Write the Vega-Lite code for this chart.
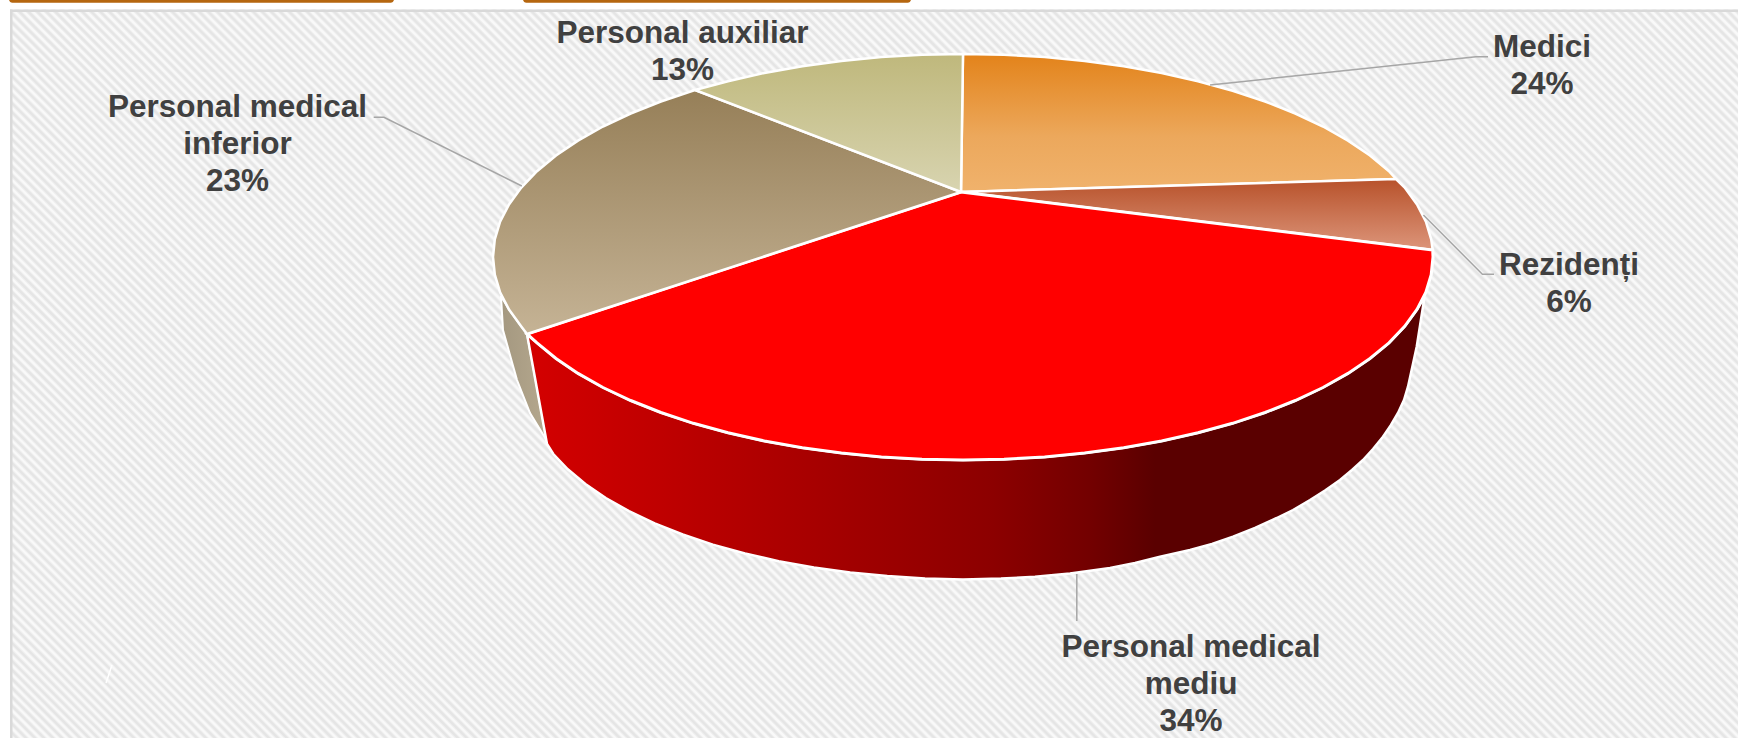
{
"$schema":"https://vega.github.io/schema/vega-lite/v6.json",
"width":1738,"height":738,"padding":0,"autosize":{"type":"none"},
"background":"#f9f9f9",
"config":{"view":{"stroke":null}},
"datasets":{
"hatch":[{"x":-431,"y":1669,"x2":2169,"y2":-931}],
"margins":[{"x":0,"x2":1738,"y":0,"y2":9.5},{"x":0,"x2":10,"y":0,"y2":738}],
"frame":[{"x":10,"x2":12.5,"y":9.5,"y2":738},{"x":10,"x2":1738,"y":9.5,"y2":12}],
"tabs":[{"x":9,"x2":394,"y":-4,"y2":2.7},{"x":523,"x2":911,"y":-4,"y2":2.7}],
"glint":[{"x":112,"y":665,"x2":106,"y2":683}],
"sideTan":[{"x":501,"y":296},{"x":509,"y":309.5},{"x":521.3,"y":326.4},{"x":527,"y":334},{"x":547,"y":441},{"x":530,"y":413},{"x":517,"y":380},{"x":503,"y":330},{"x":501,"y":296}],
"sideRed":[{"x":1424.5,"y":297},{"x":1417,"y":309.5},{"x":1404.7,"y":326.4},{"x":1389,"y":342.8},{"x":1370,"y":358.5},{"x":1348,"y":373.4},{"x":1323,"y":387.5},{"x":1295.3,"y":400.5},{"x":1265.1,"y":412.5},{"x":1232.6,"y":423.3},{"x":1198,"y":432.8},{"x":1161.6,"y":441},{"x":1123.7,"y":447.8},{"x":1084.6,"y":453.1},{"x":1044.6,"y":456.9},{"x":1004,"y":459.2},{"x":963,"y":460},{"x":922,"y":459.2},{"x":881.4,"y":456.9},{"x":841.4,"y":453.1},{"x":802.3,"y":447.8},{"x":764.4,"y":441},{"x":728,"y":432.8},{"x":693.4,"y":423.3},{"x":660.9,"y":412.5},{"x":630.7,"y":400.5},{"x":603,"y":387.5},{"x":578,"y":373.4},{"x":556,"y":358.5},{"x":537,"y":342.8},{"x":527,"y":334},{"x":547,"y":444},{"x":553.3,"y":454},{"x":567.8,"y":469.3},{"x":585.4,"y":484},{"x":605.8,"y":498},{"x":629,"y":511.1},{"x":654.7,"y":523.4},{"x":682.7,"y":534.5},{"x":712.9,"y":544.6},{"x":745,"y":553.5},{"x":778.7,"y":561.2},{"x":813.9,"y":567.5},{"x":850.2,"y":572.5},{"x":887.3,"y":576.1},{"x":925,"y":578.6},{"x":963,"y":579.5},{"x":1001,"y":578.6},{"x":1035,"y":576.8},{"x":1070,"y":573.5},{"x":1110,"y":568},{"x":1135,"y":563},{"x":1160,"y":556.7},{"x":1190,"y":550},{"x":1212,"y":544},{"x":1233,"y":536.7},{"x":1255,"y":528},{"x":1276.7,"y":518},{"x":1293,"y":510},{"x":1310,"y":500},{"x":1325,"y":490.5},{"x":1340,"y":480},{"x":1352,"y":470},{"x":1363,"y":460},{"x":1373,"y":449},{"x":1383,"y":436.7},{"x":1391,"y":425},{"x":1398,"y":413},{"x":1404,"y":400},{"x":1408,"y":386.7},{"x":1416.7,"y":346.7},{"x":1424.5,"y":297}],
"medici":[{"x":961,"y":192},{"x":963,"y":54},{"x":1004,"y":54.8},{"x":1044.6,"y":57.1},{"x":1084.6,"y":60.9},{"x":1123.7,"y":66.2},{"x":1161.6,"y":73},{"x":1198,"y":81.2},{"x":1232.6,"y":90.7},{"x":1265.1,"y":101.5},{"x":1295.3,"y":113.5},{"x":1323,"y":126.5},{"x":1348,"y":140.6},{"x":1370,"y":155.5},{"x":1389,"y":171.2},{"x":1396,"y":179},{"x":961,"y":192}],
"rezidenti":[{"x":961,"y":192},{"x":1396,"y":179},{"x":1404.7,"y":187.6},{"x":1417,"y":204.5},{"x":1425.9,"y":221.7},{"x":1431.2,"y":239.3},{"x":1432.7,"y":250},{"x":961,"y":192}],
"mediu":[{"x":961,"y":192},{"x":1432.7,"y":250},{"x":1433,"y":257},{"x":1431.2,"y":274.7},{"x":1425.9,"y":292.3},{"x":1417,"y":309.5},{"x":1404.7,"y":326.4},{"x":1389,"y":342.8},{"x":1370,"y":358.5},{"x":1348,"y":373.4},{"x":1323,"y":387.5},{"x":1295.3,"y":400.5},{"x":1265.1,"y":412.5},{"x":1232.6,"y":423.3},{"x":1198,"y":432.8},{"x":1161.6,"y":441},{"x":1123.7,"y":447.8},{"x":1084.6,"y":453.1},{"x":1044.6,"y":456.9},{"x":1004,"y":459.2},{"x":963,"y":460},{"x":922,"y":459.2},{"x":881.4,"y":456.9},{"x":841.4,"y":453.1},{"x":802.3,"y":447.8},{"x":764.4,"y":441},{"x":728,"y":432.8},{"x":693.4,"y":423.3},{"x":660.9,"y":412.5},{"x":630.7,"y":400.5},{"x":603,"y":387.5},{"x":578,"y":373.4},{"x":556,"y":358.5},{"x":537,"y":342.8},{"x":527,"y":334},{"x":961,"y":192}],
"inferior":[{"x":961,"y":192},{"x":527,"y":334},{"x":521.3,"y":326.4},{"x":509,"y":309.5},{"x":500.1,"y":292.3},{"x":494.8,"y":274.7},{"x":493,"y":257},{"x":494.8,"y":239.3},{"x":500.1,"y":221.7},{"x":509,"y":204.5},{"x":521.3,"y":187.6},{"x":537,"y":171.2},{"x":556,"y":155.5},{"x":578,"y":140.6},{"x":603,"y":126.5},{"x":630.7,"y":113.5},{"x":660.9,"y":101.5},{"x":695,"y":90},{"x":961,"y":192}],
"auxiliar":[{"x":961,"y":192},{"x":695,"y":90},{"x":728,"y":81.2},{"x":764.4,"y":73},{"x":802.3,"y":66.2},{"x":841.4,"y":60.9},{"x":881.4,"y":57.1},{"x":922,"y":54.8},{"x":963,"y":54},{"x":961,"y":192}],
"leaders":[
{"categorie":"Medici","x":1210,"y":85},{"categorie":"Medici","x":1476,"y":56.7},{"categorie":"Medici","x":1488,"y":56.7},
{"categorie":"Rezidenți","x":1423.4,"y":215},{"categorie":"Rezidenți","x":1482.4,"y":274.3},{"categorie":"Rezidenți","x":1494,"y":274.3},
{"categorie":"Personal medical mediu","x":1076.8,"y":574},{"categorie":"Personal medical mediu","x":1076.8,"y":621},
{"categorie":"Personal medical inferior","x":521.8,"y":186},{"categorie":"Personal medical inferior","x":384,"y":117.3},{"categorie":"Personal medical inferior","x":373.7,"y":117.3}],
"shares":[
{"categorie":"Medici","procent":24,"eticheta":"Medici\n24%","x":1542,"y":47.5},
{"categorie":"Rezidenți","procent":6,"eticheta":"Rezidenți\n6%","x":1569,"y":266},
{"categorie":"Personal medical mediu","procent":34,"eticheta":"Personal medical\nmediu\n34%","x":1191,"y":647.5},
{"categorie":"Personal medical inferior","procent":23,"eticheta":"Personal medical\ninferior\n23%","x":237.5,"y":108},
{"categorie":"Personal auxiliar","procent":13,"eticheta":"Personal auxiliar\n13%","x":682.5,"y":34}]
},
"encoding":{
"x":{"field":"x","type":"quantitative","scale":{"domain":[0,1738],"nice":false,"zero":false},"axis":null},
"y":{"field":"y","type":"quantitative","scale":{"domain":[738,0],"nice":false,"zero":false},"axis":null}
},
"layer":[
{"data":{"name":"hatch"},"mark":{"type":"rule","clip":true,"stroke":"#efefef","strokeWidth":2700,"strokeDash":[4.2,2.16]},"encoding":{"x2":{"field":"x2"},"y2":{"field":"y2"}}},
{"data":{"name":"hatch"},"mark":{"type":"rule","clip":true,"stroke":"#e5e5e5","strokeWidth":2700,"strokeDash":[2.2,4.16],"strokeDashOffset":-1},"encoding":{"x2":{"field":"x2"},"y2":{"field":"y2"}}},
{"data":{"name":"margins"},"mark":{"type":"rect","fill":"#ffffff"},"encoding":{"x2":{"field":"x2"},"y2":{"field":"y2"}}},
{"data":{"name":"frame"},"mark":{"type":"rect","fill":"#d9d9d9"},"encoding":{"x2":{"field":"x2"},"y2":{"field":"y2"}}},
{"data":{"name":"tabs"},"mark":{"type":"rect","fill":"#b5660f","clip":true,"cornerRadius":4},"encoding":{"x2":{"field":"x2"},"y2":{"field":"y2"}}},
{"data":{"name":"glint"},"mark":{"type":"rule","stroke":"#ffffff","strokeWidth":1.5},"encoding":{"x2":{"field":"x2"},"y2":{"field":"y2"}}},
{"data":{"name":"sideTan"},"transform":[{"window":[{"op":"row_number","as":"o"}]}],"mark":{"type":"line","filled":true,"stroke":"#ffffff","strokeWidth":2,"fill":{"gradient":"linear","x1":0,"y1":0,"x2":1,"y2":0,"stops":[{"offset":0,"color":"#a49880"},{"offset":1,"color":"#b5a88e"}]}},"encoding":{"order":{"field":"o","type":"quantitative"}}},
{"data":{"name":"sideRed"},"transform":[{"window":[{"op":"row_number","as":"o"}]}],"mark":{"type":"line","filled":true,"stroke":"#ffffff","strokeWidth":2.5,"fill":{"gradient":"linear","x1":0,"y1":0,"x2":1,"y2":0,"stops":[{"offset":0,"color":"#d40000"},{"offset":0.37,"color":"#a00000"},{"offset":0.52,"color":"#8c0000"},{"offset":0.63,"color":"#720000"},{"offset":0.7,"color":"#5a0000"},{"offset":1,"color":"#5a0000"}]}},"encoding":{"order":{"field":"o","type":"quantitative"}}},
{"data":{"name":"medici"},"transform":[{"window":[{"op":"row_number","as":"o"}]}],"mark":{"type":"line","filled":true,"stroke":"#ffffff","strokeWidth":2.5,"fill":{"gradient":"linear","x1":0,"y1":0,"x2":0,"y2":1,"stops":[{"offset":0,"color":"#e3831a"},{"offset":0.6,"color":"#eca85c"},{"offset":1,"color":"#f0b26c"}]}},"encoding":{"order":{"field":"o","type":"quantitative"}}},
{"data":{"name":"rezidenti"},"transform":[{"window":[{"op":"row_number","as":"o"}]}],"mark":{"type":"line","filled":true,"stroke":"#ffffff","strokeWidth":2.5,"fill":{"gradient":"linear","x1":0,"y1":0,"x2":0,"y2":1,"stops":[{"offset":0,"color":"#b8522b"},{"offset":1,"color":"#dc957a"}]}},"encoding":{"order":{"field":"o","type":"quantitative"}}},
{"data":{"name":"mediu"},"transform":[{"window":[{"op":"row_number","as":"o"}]}],"mark":{"type":"line","filled":true,"stroke":"#ffffff","strokeWidth":3,"fill":"#ff0000"},"encoding":{"order":{"field":"o","type":"quantitative"}}},
{"data":{"name":"inferior"},"transform":[{"window":[{"op":"row_number","as":"o"}]}],"mark":{"type":"line","filled":true,"stroke":"#ffffff","strokeWidth":2.5,"fill":{"gradient":"linear","x1":0,"y1":0,"x2":0,"y2":1,"stops":[{"offset":0,"color":"#967f58"},{"offset":1,"color":"#c5b395"}]}},"encoding":{"order":{"field":"o","type":"quantitative"}}},
{"data":{"name":"auxiliar"},"transform":[{"window":[{"op":"row_number","as":"o"}]}],"mark":{"type":"line","filled":true,"stroke":"#ffffff","strokeWidth":2.5,"fill":{"gradient":"linear","x1":0,"y1":0,"x2":0,"y2":1,"stops":[{"offset":0,"color":"#bfb87c"},{"offset":1,"color":"#d8d4b0"}]}},"encoding":{"order":{"field":"o","type":"quantitative"}}},
{"data":{"name":"leaders"},"transform":[{"window":[{"op":"row_number","as":"o"}]}],"mark":{"type":"line","stroke":"#a6a6a6","strokeWidth":1.5},"encoding":{"detail":{"field":"categorie"},"order":{"field":"o","type":"quantitative"}}},
{"data":{"name":"shares"},"mark":{"type":"text","font":"Liberation Sans","fontWeight":"bold","fontSize":31.5,"lineHeight":37,"lineBreak":"\n","fill":"#404040","align":"center","baseline":"middle"},"encoding":{"text":{"field":"eticheta"}}}
]
}
